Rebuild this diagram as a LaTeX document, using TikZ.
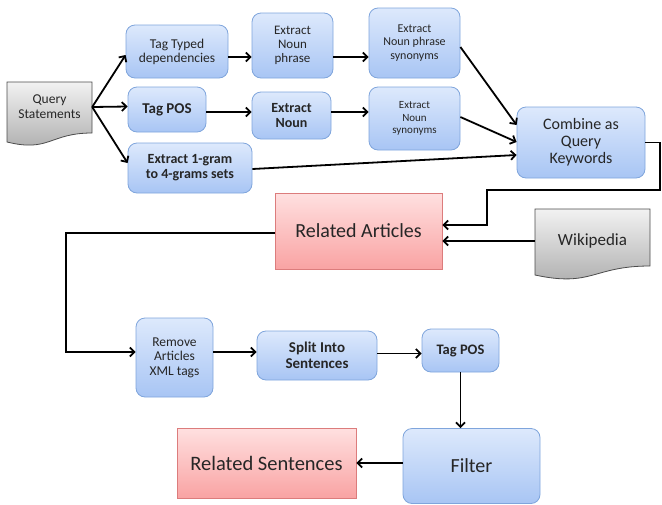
\documentclass[tikz,border=0pt]{standalone}
\usepackage{fontspec}
\setmainfont{Carlito}
\usetikzlibrary{arrows.meta}
\definecolor{bluetop}{HTML}{DDE9FC}
\definecolor{bluebot}{HTML}{A8C5F4}
\definecolor{blueedge}{HTML}{7FA5DC}
\definecolor{pinktop}{HTML}{FFE0E0}
\definecolor{pinkbot}{HTML}{F9A3A3}
\definecolor{pinkedge}{HTML}{DC7C7C}
\definecolor{graytop}{HTML}{F2F2F2}
\definecolor{graybot}{HTML}{ABABAB}
\tikzset{
  bluebox/.style={draw=blueedge, line width=0.8pt, rounded corners=9pt, top color=bluetop, bottom color=bluebot, align=center, inner sep=1pt, text=black!85},
  pinkbox/.style={draw=pinkedge, line width=0.8pt, top color=pinktop, bottom color=pinkbot, align=center, inner sep=1pt, text=black!85},
  docbox/.style={draw=black!70, line width=0.8pt, top color=graytop, bottom color=graybot},
  doctext/.style={align=center, inner sep=0pt, text=black!85},
  arr/.style={-{Straight Barb[length=4.5pt,width=9pt,line width=1.8pt]}, line width=1.8pt, black},
}
\begin{document}
\begin{tikzpicture}[x=1pt,y=-1pt]
\useasboundingbox (0,0) rectangle (662,504);
% documents
\path[docbox] (7,82) -- (92,82) -- (92,133) .. controls (49.5,133) and (49.5,152.5) .. (7,142) -- cycle;
\node[doctext, font=\fontsize{13.5}{15}\selectfont, minimum width=85pt, minimum height=51pt] (query) at (49.5,107) {Query\\Statements};
\path[docbox] (535,209) -- (650,209) -- (650,266) .. controls (592.5,266) and (592.5,287.5) .. (535,275) -- cycle;
\node[doctext, font=\fontsize{17}{18}\selectfont, minimum width=115pt, minimum height=57pt] (wiki) at (592.5,241) {Wikipedia};
% blue boxes
\node[bluebox, minimum width=102pt, minimum height=53pt, font=\fontsize{13.5}{14}\selectfont] (ttd) at (177,51.5) {Tag Typed\\dependencies};
\node[bluebox, minimum width=81pt, minimum height=65pt, font=\fontsize{13}{14}\selectfont] (enp) at (292.5,45.5) {Extract\\Noun\\phrase};
\node[bluebox, minimum width=91pt, minimum height=70pt, font=\fontsize{12}{13.3}\selectfont] (enps) at (414.5,43) {Extract\\Noun phrase\\synonyms};
\node[bluebox, minimum width=78pt, minimum height=45pt, font=\bfseries\fontsize{15}{16}\selectfont] (tpos) at (167,109.5) {Tag POS};
\node[bluebox, minimum width=79pt, minimum height=47pt, font=\bfseries\fontsize{14}{15}\selectfont] (en) at (291.5,115.5) {Extract\\Noun};
\node[bluebox, minimum width=91pt, minimum height=63pt, font=\fontsize{11}{12.3}\selectfont] (ens) at (414.5,118.5) {Extract\\Noun\\synonyms};
\node[bluebox, minimum width=124pt, minimum height=50pt, font=\bfseries\fontsize{14}{15}\selectfont] (ng) at (190,168) {Extract 1-gram\\to 4-grams sets};
\node[bluebox, minimum width=128pt, minimum height=71pt, font=\fontsize{16}{17}\selectfont] (comb) at (581,142.5) {Combine as\\Query\\Keywords};
\node[pinkbox, minimum width=167pt, minimum height=76pt, font=\fontsize{20}{21}\selectfont] (ra) at (358.5,231) {Related Articles};
\node[bluebox, minimum width=77pt, minimum height=79pt, font=\fontsize{13.5}{14.5}\selectfont] (rm) at (174.5,357.5) {Remove\\Articles\\XML tags};
\node[bluebox, minimum width=120pt, minimum height=49pt, font=\bfseries\fontsize{15}{16}\selectfont] (split) at (317,355.5) {Split Into\\Sentences};
\node[bluebox, minimum width=77pt, minimum height=43pt, font=\bfseries\fontsize{14.5}{15}\selectfont] (tpos2) at (460.5,350.5) {Tag POS};
\node[bluebox, minimum width=137pt, minimum height=75pt, font=\fontsize{20}{21}\selectfont] (filt) at (471.5,466) {Filter};
\node[pinkbox, minimum width=179pt, minimum height=70pt, font=\fontsize{20.5}{21}\selectfont] (rs) at (266.5,463) {Related Sentences};
% connectors
\draw[arr] (query.east) -- ([yshift=-3.5pt]ttd.west);
\draw[arr] (query.east) -- ([yshift=3pt]tpos.west);
\draw[arr] (query.east) -- ([yshift=5pt]ng.west);
\draw[arr] ([yshift=-5.5pt]ttd.east) -- ([yshift=-11.5pt]enp.west);
\draw[arr] ([yshift=-11.5pt]enp.east) -- ([yshift=-14pt]enps.west);
\draw[arr] ([yshift=-2.5pt]tpos.east) -- ([yshift=3.5pt]en.west);
\draw[arr] ([yshift=3.5pt]en.east) -- ([yshift=6.5pt]ens.west);
\draw[arr] ([yshift=-1pt]ng.east) -- ([yshift=-12.5pt]comb.west);
\draw[arr] ([yshift=-4pt]enps.east) -- ([yshift=17.5pt]comb.west);
\draw[arr] ([yshift=1.5pt]ens.east) -- ([yshift=0.5pt]comb.west);
\coordinate (k1) at (660,190);
\coordinate (k2) at (487,190);
\coordinate (k3) at (487,225);
\draw[arr] (comb.east) -| (k1) -- (k2) -- (k3) -- (ra.east |- k3);
\draw[arr] (wiki.west) -- (ra.east |- wiki.west);
\coordinate (k4) at (66,233);
\coordinate (k5) at (66,352);
\draw[arr] (ra.west |- k4) -- (k4) -- (k5) -- (rm.west |- k5);
\draw[arr] ([yshift=5.5pt]rm.east) -- ([yshift=3.5pt]split.west);
\draw[arr] ([yshift=2pt]split.east) -- ([yshift=-3pt]tpos2.west);
\draw[arr] (tpos2.south) -- (tpos2.south |- filt.north);
\draw[arr] ([yshift=3pt]filt.west) -- (rs.east |- 0,463);
\end{tikzpicture}
\end{document}
